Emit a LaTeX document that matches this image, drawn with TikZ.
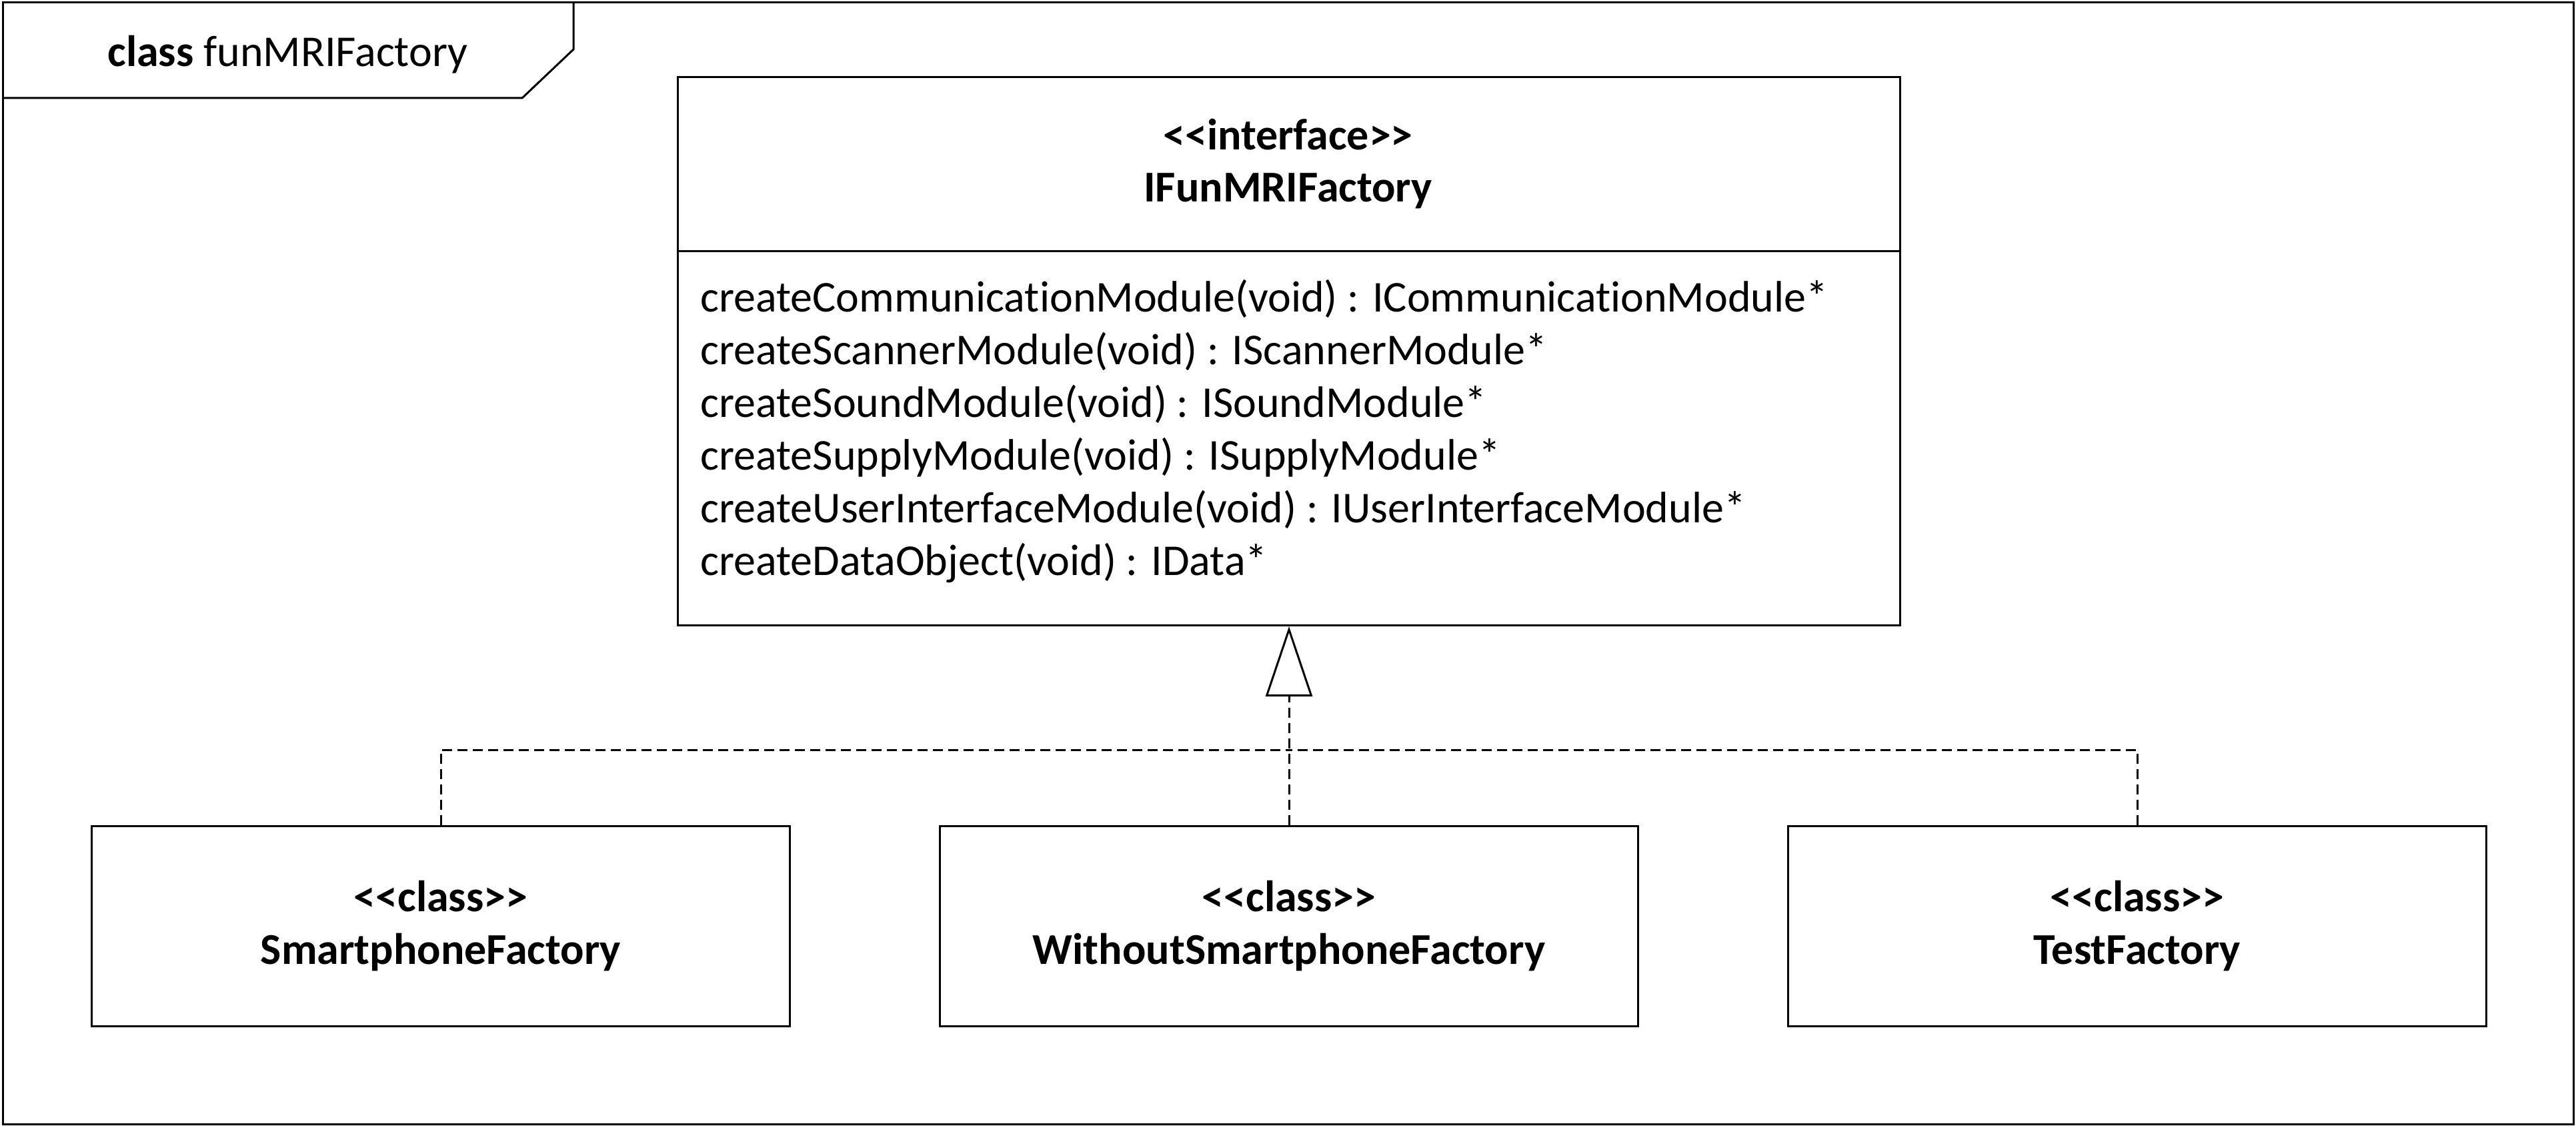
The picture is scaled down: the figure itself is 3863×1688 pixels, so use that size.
\documentclass[tikz,border=0pt]{standalone}
\usepackage{fontspec}
\setmainfont{Carlito}[Ligatures={NoCommon}]
\usetikzlibrary{arrows.meta}
\newcommand\stereo[1]{<\kern0pt<#1>\kern0pt>}
\begin{document}
\begin{tikzpicture}[x=1pt,y=-1pt,
  every node/.style={font=\fontsize{66}{79}\selectfont},
  line width=3pt,
  classbox/.style={draw, line width=3pt, minimum width=1047pt, minimum height=300pt, align=center, inner sep=0pt, anchor=north west},
  compart/.style={draw, line width=3pt, minimum width=1833pt, inner sep=0pt, anchor=north west},
  txt/.style={inner sep=0pt},
  dep/.style={line width=3pt, dash pattern=on 15pt off 8pt},
  gen/.style={-{Triangle[open, length=105pt, width=70pt, line width=3pt]}}]
\useasboundingbox (0,0) rectangle (3863,1688);
% frame and tab
\draw (4,4) rectangle (3859,1685);
\draw (4,147) -- (783,147) -- (860,74) -- (860,4);
\node[txt, anchor=base west] (title) at (160,100) {\textbf{class} funMRIFactory};
% interface
\node[compart, minimum height=261pt] (ihead) at (1015,114) {};
\node[compart, minimum height=561pt] (imeth) at (1015,375) {};
\node[txt, anchor=base] (istereo) at (1931.5,225) {\textbf{\stereo{interface}}};
\node[txt, anchor=base] (iname) at (1931.5,303) {\textbf{IFunMRIFactory}};
\node[txt, anchor=base west] (m1) at (1049,467) {createCommunicationModule(void) : ICommunicationModule*};
\node[txt, anchor=base west] (m2) at (1049,546) {createScannerModule(void) : IScannerModule*};
\node[txt, anchor=base west] (m3) at (1049,625) {createSoundModule(void) : ISoundModule*};
\node[txt, anchor=base west] (m4) at (1049,704) {createSupplyModule(void) : ISupplyModule*};
\node[txt, anchor=base west] (m5) at (1049,783) {createUserInterfaceModule(void) : IUserInterfaceModule*};
\node[txt, anchor=base west] (m6) at (1049,862) {createDataObject(void) : IData*};
% classes
\node[classbox] (b1) at (136,1237) {\textbf{\stereo{class}}\\\textbf{SmartphoneFactory}};
\node[classbox] (b2) at (1408,1237) {\textbf{\stereo{class}}\\\textbf{WithoutSmartphoneFactory}};
\node[classbox] (b3) at (2680,1237) {\textbf{\stereo{class}}\\\textbf{TestFactory}};
% realization
\coordinate (bus) at (1931.5,1124);
\draw[dep] (b1.north) |- (bus);
\draw[dep] (b3.north) |- (bus);
\draw[dep, gen] (b2.north) -- (imeth.south);
\end{tikzpicture}
\end{document}
